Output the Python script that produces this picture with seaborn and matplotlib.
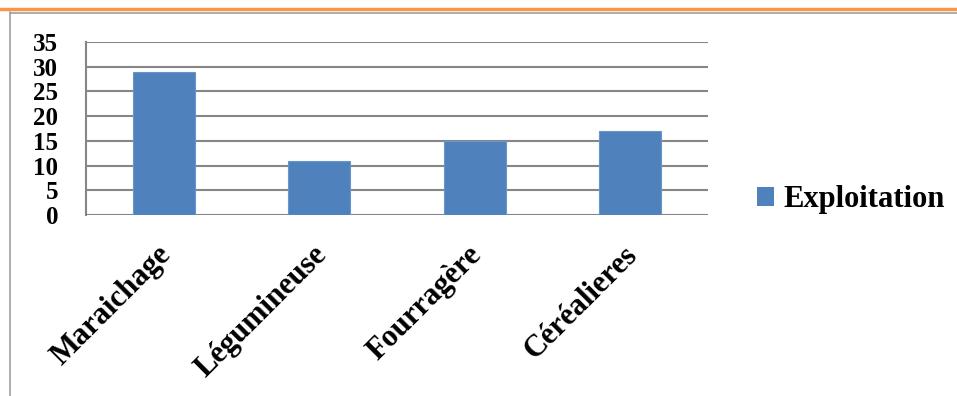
import matplotlib
matplotlib.use("Agg")
import matplotlib.pyplot as plt
from matplotlib.lines import Line2D
from matplotlib.patches import Patch
import matplotlib.transforms as mtransforms
import seaborn as sns
import pandas as pd

categories = ["Maraichage", "Légumineuse", "Fourragère", "Céréalieres"]
exploitation = [29, 11, 15, 17]
y_ticks = [0, 5, 10, 15, 20, 25, 30, 35]
series_name = "Exploitation"

sns.set_theme(style="white")
plt.rcParams["font.family"] = ["Liberation Serif", "DejaVu Serif"]
plt.rcParams["text.color"] = "black"
plt.rcParams["xtick.color"] = "black"
plt.rcParams["ytick.color"] = "black"

df = pd.DataFrame({"Culture": categories, series_name: exploitation})

fig = plt.figure(figsize=(9.57, 3.96), dpi=100)
ax = fig.add_axes([86 / 957, 1 - 215 / 396, (708 - 86) / 957, (215 - 42) / 396])

bar_color = "#4F81BD"
sns.barplot(data=df, x="Culture", y=series_name, color=bar_color, width=0.4,
            saturation=1, ax=ax, edgecolor="#6A95C9", linewidth=0.8, zorder=3)

ax.set_ylim(0, 35)
ax.set_xlim(-0.5, len(categories) - 0.5)
ax.set_yticks(y_ticks)
ax.set_yticklabels([str(v) for v in y_ticks], fontsize=18, fontweight="bold",
                   color="black")
ax.yaxis.grid(True, color="#868686", linewidth=1.5, zorder=0)
ax.set_axisbelow(True)
ax.tick_params(axis="y", length=0, pad=20)
ax.tick_params(axis="x", length=0, pad=6)
ax.set_xlabel("")
ax.set_ylabel("")

for s in ["top", "right", "bottom"]:
    ax.spines[s].set_visible(False)
ax.spines["left"].set_color("#868686")
ax.spines["left"].set_linewidth(1.5)

ax.set_xticks(range(len(categories)))
ax.set_xticklabels(categories, rotation=45, ha="right", va="center",
                   rotation_mode="anchor", fontsize=22, fontweight="bold",
                   color="black")
for lbl in ax.get_xticklabels():
    lbl.set_transform(lbl.get_transform() +
                      mtransforms.ScaledTranslation(0.03, -0.27, fig.dpi_scale_trans))

handles = [Patch(facecolor=bar_color, edgecolor="none", label=series_name)]
fig.legend(handles=handles, loc="center left", bbox_to_anchor=(742 / 957, 1 - 200 / 396),
           frameon=False, prop={"size": 22, "weight": "bold"},
           handlelength=0.55, handleheight=0.55, handletextpad=0.3, borderpad=0)

# Page frame: orange rule on top, grey border below and to the left
fig.add_artist(Line2D([0, 1], [1 - 9 / 396, 1 - 9 / 396], transform=fig.transFigure,
                      color="#F79646", linewidth=2.5))
fig.add_artist(Line2D([9.5 / 957, 1], [1 - 12.5 / 396, 1 - 12.5 / 396], transform=fig.transFigure,
                      color="#A0A0A0", linewidth=1.2))
fig.add_artist(Line2D([9.5 / 957, 9.5 / 957], [0, 1 - 12 / 396], transform=fig.transFigure,
                      color="#A0A0A0", linewidth=1.2))

fig.savefig("out.png", dpi=100, facecolor="white")
